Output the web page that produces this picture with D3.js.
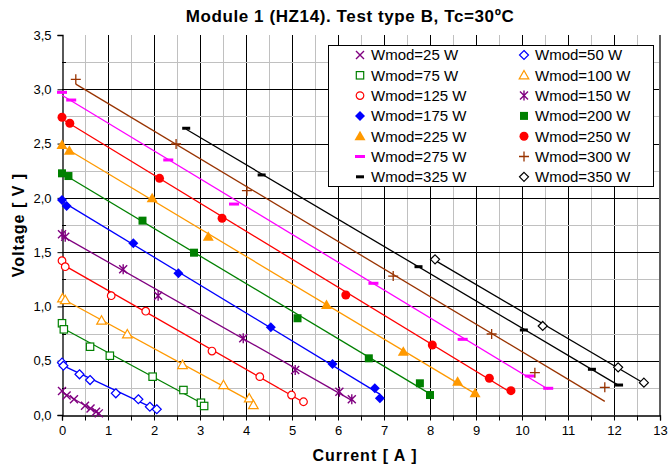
<!DOCTYPE html>
<html>
<head>
<meta charset="utf-8">
<script src="https://cdn.jsdelivr.net/npm/d3@7"></script>
<style>
  body { margin: 0; background: #fff; }
  svg { display: block; font-family: "Liberation Sans", Arial, sans-serif; }
</style>
</head>
<body>
<svg id="chart" width="670" height="468"></svg>
<script>
// Module power levels (W)
const powers = [25, 50, 75, 100, 125, 150, 175, 200, 225, 250, 275, 300, 325, 350];

// Measured current [A] and voltage [V] for each power level
const i25  = [0, 0.10, 0.26, 0.50, 0.62, 0.74, 0.80];
const v25  = [0.22, 0.18, 0.145, 0.085, 0.06, 0.03, 0.015];
const i50  = [0, 0.03, 0.38, 0.61, 1.17, 1.66, 1.91, 2.06];
const v50  = [0.482, 0.454, 0.375, 0.322, 0.200, 0.145, 0.076, 0.053];
const i75  = [0, 0.04, 0.61, 1.04, 1.97, 2.64, 3.02, 3.09];
const v75  = [0.845, 0.789, 0.629, 0.546, 0.353, 0.230, 0.113, 0.083];
const i100 = [0.01, 0.07, 0.86, 1.42, 2.62, 3.51, 4.07, 4.16];
const v100 = [1.075, 1.059, 0.870, 0.743, 0.461, 0.276, 0.154, 0.092];
const i125 = [0, 0.07, 1.07, 1.82, 3.26, 4.30, 4.99, 5.25];
const v125 = [1.421, 1.366, 1.099, 0.956, 0.589, 0.353, 0.184, 0.122];
const i150 = [0, 0.07, 1.33, 2.09, 3.94, 5.07, 6.03, 6.30];
const v150 = [1.664, 1.642, 1.342, 1.099, 0.706, 0.414, 0.215, 0.145];
const i175 = [0, 0.10, 1.55, 2.53, 4.54, 5.88, 6.80, 6.91];
const v175 = [1.980, 1.925, 1.581, 1.305, 0.808, 0.470, 0.246, 0.154];
const i200 = [0, 0.14, 1.75, 2.87, 5.12, 6.67, 7.78, 8.00];
const v200 = [2.226, 2.201, 1.790, 1.495, 0.891, 0.522, 0.292, 0.184];
const i225 = [0, 0.16, 1.96, 3.18, 5.75, 7.42, 8.60, 8.98];
const v225 = [2.487, 2.434, 1.996, 1.642, 1.013, 0.583, 0.307, 0.200];
const i250 = [0, 0.17, 2.12, 3.48, 6.17, 8.05, 9.29, 9.76];
const v250 = [2.742, 2.687, 2.180, 1.812, 1.105, 0.645, 0.338, 0.224];
const i275 = [0, 0.20, 2.31, 3.74, 6.77, 8.71, 10.17, 10.57];
const v275 = [2.972, 2.901, 2.349, 1.943, 1.213, 0.697, 0.359, 0.246];
const i300 = [0.30, 2.48, 4.02, 7.20, 9.34, 10.28, 11.80];
const v300 = [3.092, 2.496, 2.066, 1.280, 0.746, 0.390, 0.255];
const i325 = [2.70, 4.34, 7.75, 10.04, 11.52, 12.11];
const v325 = [2.641, 2.211, 1.366, 0.783, 0.421, 0.276];
const i350 = [8.11, 10.45, 12.09, 12.65];
const v350 = [1.434, 0.820, 0.439, 0.298];

const currents = [i25, i50, i75, i100, i125, i150, i175, i200, i225, i250, i275, i300, i325, i350];
const voltages = [v25, v50, v75, v100, v125, v150, v175, v200, v225, v250, v275, v300, v325, v350];

// Axis tick values
const xTickValues = d3.range(0, 14, 1);
const yTickValues = d3.range(0, 3.51, 0.5);

// Marker shape and colour per series
const markerTypes = ["x", "diamondOpen", "squareOpen", "triangleOpen", "circleOpen", "asterisk", "diamond",
                     "square", "triangle", "circle", "longDash", "plus", "dash", "diamondOpen"];
const colors = ["#800080", "#0000FF", "#008000", "#FF9900", "#FF0000", "#800080", "#0000FF",
                "#008000", "#FF9900", "#FF0000", "#FF00FF", "#993300", "#000000", "#000000"];

const svg = d3.select("#chart");
const x = d3.scaleLinear().domain([0, 13]).range([62, 660]);
const y = d3.scaleLinear().domain([0, 3.5]).range([415, 35]);

// Gridlines
const grid = svg.append("g").attr("shape-rendering", "crispEdges");
d3.range(0.5, 13, 0.5).forEach(v => {
  const px = Math.round(x(v)) + 0.5;
  grid.append("line").attr("x1", px).attr("x2", px).attr("y1", y(3.5)).attr("y2", y(0))
    .attr("stroke", Number.isInteger(v) ? "#000" : "#C0C0C0").attr("stroke-width", 1);
});
d3.range(0.25, 3.5, 0.25).forEach(v => {
  const py = Math.round(y(v)) + 0.5;
  const major = Math.abs(v * 2 - Math.round(v * 2)) < 1e-9;
  grid.append("line").attr("x1", x(0)).attr("x2", x(13)).attr("y1", py).attr("y2", py)
    .attr("stroke", major ? "#000" : "#C0C0C0").attr("stroke-width", 1);
});

// Right border of plot area
grid.append("line").attr("x1", x(13)).attr("x2", x(13)).attr("y1", y(3.5)).attr("y2", y(0) + 1)
  .attr("stroke", "#606060").attr("stroke-width", 2);

// Axes
const comma = v => d3.format(".1f")(v).replace(".", ",");
const yAxis = d3.axisLeft(y).tickValues(yTickValues).tickFormat(comma).tickSize(5).tickPadding(6);
const yAxisG = svg.append("g").attr("transform", `translate(${x(0) + 0.5},0)`).call(yAxis);
yAxisG.select(".domain").attr("stroke", "#000").attr("stroke-width", 1.3);
yAxisG.selectAll(".tick line").attr("stroke", "#000");
yAxisG.selectAll("text").attr("font-size", 13).attr("fill", "#000").attr("font-family", "Liberation Sans, Arial, sans-serif");
// inner minor ticks on the voltage axis
svg.append("g").selectAll("line").data(d3.range(0.25, 3.5, 0.5)).join("line")
  .attr("x1", x(0)).attr("x2", x(0) + 4)
  .attr("y1", d => Math.round(y(d)) + 0.5).attr("y2", d => Math.round(y(d)) + 0.5)
  .attr("stroke", "#000").attr("shape-rendering", "crispEdges");

const xAxis = d3.axisBottom(x).tickValues(d3.range(0, 13.01, 0.5)).tickSize(5).tickPadding(5)
  .tickFormat(d => Number.isInteger(d) && xTickValues.includes(d) ? String(d) : "");
const xAxisG = svg.append("g").attr("transform", `translate(0,${y(0) + 0.5})`).call(xAxis);
xAxisG.select(".domain").attr("stroke", "#000").attr("stroke-width", 1.3);
xAxisG.selectAll(".tick line").attr("stroke", "#000");
xAxisG.selectAll("text").attr("font-size", 13).attr("fill", "#000").attr("font-family", "Liberation Sans, Arial, sans-serif");

// Marker drawing
function marker(g, type, color, cx, cy) {
  const s = g.append("g").attr("transform", `translate(${cx},${cy})`);
  const sw = 1.2;
  switch (type) {
    case "x":
      s.append("path").attr("d", "M-4,-4L4,4M-4,4L4,-4").attr("stroke", color).attr("stroke-width", 1.4).attr("fill", "none");
      break;
    case "asterisk":
      s.append("path").attr("d", "M-4,-4L4,4M-4,4L4,-4M0,-5L0,5").attr("stroke", color).attr("stroke-width", 1.4).attr("fill", "none");
      break;
    case "plus":
      s.append("path").attr("d", "M-5,0L5,0M0,-5L0,5").attr("stroke", color).attr("stroke-width", 1.3).attr("fill", "none");
      break;
    case "diamondOpen":
      s.append("path").attr("d", "M0,-4.5L4.5,0L0,4.5L-4.5,0Z").attr("stroke", color).attr("stroke-width", sw).attr("fill", "#fff");
      break;
    case "squareOpen":
      s.append("rect").attr("x", -3.7).attr("y", -3.7).attr("width", 7.4).attr("height", 7.4).attr("stroke", color).attr("stroke-width", sw).attr("fill", "#fff");
      break;
    case "triangleOpen":
      s.append("path").attr("d", "M0,-4.8L4.8,3.6L-4.8,3.6Z").attr("stroke", color).attr("stroke-width", sw).attr("fill", "#fff");
      break;
    case "circleOpen":
      s.append("circle").attr("r", 3.8).attr("stroke", color).attr("stroke-width", sw).attr("fill", "#fff");
      break;
    case "diamond":
      s.append("path").attr("d", "M0,-5L5,0L0,5L-5,0Z").attr("fill", color);
      break;
    case "square":
      s.append("rect").attr("x", -4).attr("y", -4).attr("width", 8).attr("height", 8).attr("fill", color);
      break;
    case "triangle":
      s.append("path").attr("d", "M0,-5.5L5.5,4L-5.5,4Z").attr("fill", color);
      break;
    case "circle":
      s.append("circle").attr("r", 4.5).attr("fill", color);
      break;
    case "longDash":
      s.append("rect").attr("x", -5).attr("y", -1.5).attr("width", 10).attr("height", 3).attr("fill", color);
      break;
    case "dash":
      s.append("rect").attr("x", -4).attr("y", -1.5).attr("width", 8).attr("height", 3).attr("fill", color);
      break;
  }
}

// Least-squares trend line for each series, spanning the measured current range
const linesG = svg.append("g");
const marksG = svg.append("g");
powers.forEach((p, k) => {
  const xs = currents[k], ys = voltages[k];
  const mx = d3.mean(xs), my = d3.mean(ys);
  const slope = d3.sum(xs, (xi, j) => (xi - mx) * (ys[j] - my)) / d3.sum(xs, xi => (xi - mx) ** 2);
  const icpt = my - slope * mx;
  const [x0, x1] = d3.extent(xs);
  linesG.append("line")
    .attr("x1", x(x0)).attr("y1", y(icpt + slope * x0))
    .attr("x2", x(x1)).attr("y2", y(icpt + slope * x1))
    .attr("stroke", colors[k]).attr("stroke-width", 1.3);
});
powers.forEach((p, k) => {
  currents[k].forEach((c, j) => marker(marksG, markerTypes[k], colors[k], x(c), y(voltages[k][j])));
});

// Legend
const lg = svg.append("g");
lg.append("rect").attr("x", 328.5).attr("y", 45.5).attr("width", 325).attr("height", 141)
  .attr("fill", "#fff").attr("stroke", "#000").attr("stroke-width", 1);
powers.forEach((p, k) => {
  const col = k % 2, row = Math.floor(k / 2);
  const ly = 55 + row * 20.3;
  const mx = col === 0 ? 360 : 524;
  marker(lg, markerTypes[k], colors[k], mx, ly);
  lg.append("text").attr("x", mx + 11).attr("y", ly + 5.3).attr("font-size", 15).attr("fill", "#000")
    .text(`Wmod=${p} W`);
});

// Titles
svg.append("text").attr("x", 350).attr("y", 22).attr("text-anchor", "middle")
  .attr("font-size", 17).attr("letter-spacing", 0.6).attr("font-weight", "bold")
  .text("Module 1 (HZ14). Test type B, Tc=30ºC");
svg.append("text").attr("x", 365).attr("y", 461).attr("text-anchor", "middle")
  .attr("font-size", 16).attr("letter-spacing", 1).attr("font-weight", "bold").text("Current [ A ]");
svg.append("text").attr("transform", `translate(24,225) rotate(-90)`).attr("text-anchor", "middle")
  .attr("font-size", 16).attr("letter-spacing", 1).attr("font-weight", "bold").text("Voltage [ V ]");
</script>
</body>
</html>
